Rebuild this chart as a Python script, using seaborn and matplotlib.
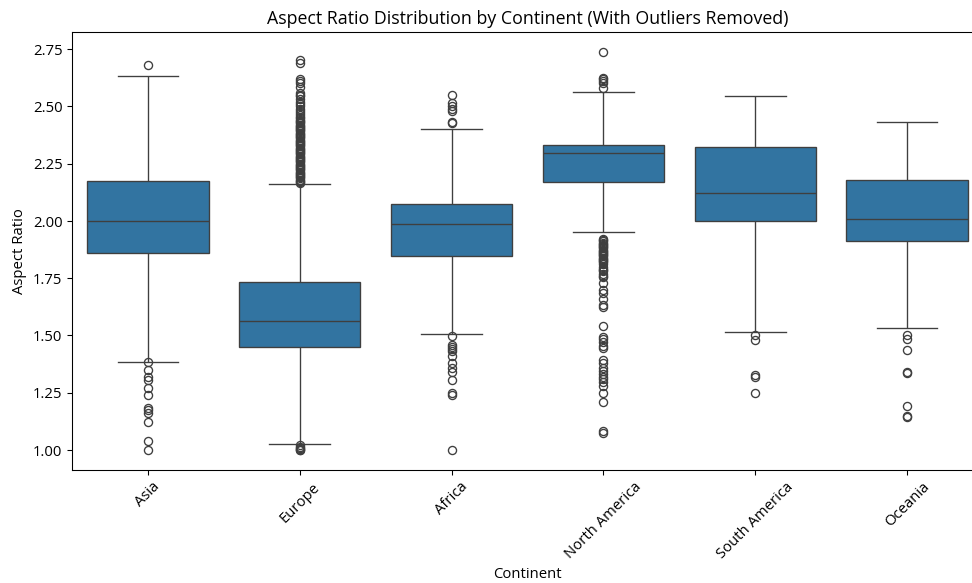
import matplotlib
matplotlib.use("Agg")
import matplotlib.pyplot as plt
import seaborn as sns
import pandas as pd

plt.rcParams["font.family"] = ["Open Sans", "DejaVu Sans"]
plt.rcParams["font.size"] = 11

continents = ["Asia", "Europe", "Africa", "North America", "South America", "Oceania"]

q1 = [1.858, 1.450, 1.845, 2.168, 2.000, 1.914]
median = [2.000, 1.562, 1.986, 2.297, 2.120, 2.010]
q3 = [2.173, 1.735, 2.074, 2.330, 2.323, 2.177]
whisker_low = [1.386, 1.025, 1.507, 1.950, 1.517, 1.533]
whisker_high = [2.633, 2.160, 2.402, 2.563, 2.544, 2.431]

outliers_low = [
    [1.382, 1.350, 1.318, 1.306, 1.270, 1.240, 1.185, 1.175, 1.160, 1.124, 1.039, 1.000],
    [1.020, 1.015, 1.010, 1.005, 1.000, 1.000],
    [1.498, 1.460, 1.450, 1.440, 1.430, 1.410, 1.380, 1.360, 1.340, 1.306, 1.250, 1.240, 1.000],
    [1.920, 1.915, 1.910, 1.905, 1.900, 1.895, 1.890, 1.885, 1.880, 1.875, 1.870, 1.865,
     1.860, 1.855, 1.850, 1.845, 1.840, 1.835, 1.830, 1.825, 1.820, 1.810, 1.800, 1.790,
     1.785, 1.780, 1.770, 1.760, 1.755, 1.730, 1.700, 1.685, 1.660, 1.635, 1.625, 1.540,
     1.495, 1.485, 1.470, 1.455, 1.445, 1.395, 1.380, 1.360, 1.345, 1.330, 1.320, 1.310,
     1.295, 1.280, 1.250, 1.210, 1.085, 1.075],
    [1.503, 1.481, 1.328, 1.320, 1.248],
    [1.503, 1.484, 1.437, 1.342, 1.335, 1.192, 1.149, 1.143],
]

outliers_high = [
    [2.681],
    [2.700, 2.690, 2.620, 2.610, 2.600, 2.585, 2.560, 2.550, 2.545, 2.530, 2.520, 2.510,
     2.500, 2.490, 2.480, 2.470, 2.460, 2.455, 2.450, 2.440, 2.435, 2.430, 2.425, 2.420,
     2.415, 2.410, 2.405, 2.400, 2.395, 2.390, 2.385, 2.380, 2.375, 2.370, 2.365, 2.360,
     2.355, 2.350, 2.345, 2.340, 2.335, 2.330, 2.325, 2.320, 2.315, 2.310, 2.305, 2.300,
     2.295, 2.290, 2.285, 2.280, 2.275, 2.270, 2.265, 2.260, 2.255, 2.250, 2.245, 2.240,
     2.235, 2.230, 2.225, 2.220, 2.215, 2.210, 2.205, 2.200, 2.195, 2.190, 2.185, 2.180,
     2.175, 2.170, 2.165],
    [2.549, 2.515, 2.500, 2.490, 2.480, 2.430, 2.425],
    [2.738, 2.625, 2.620, 2.610, 2.600, 2.580],
    [],
    [],
]

# Build a table whose quartiles/whiskers reproduce the summary values above
BLOCK = 1000
rows_c, rows_v = [], []
for i, c in enumerate(continents):
    vals = (outliers_low[i] + [whisker_low[i]] + [q1[i]] * BLOCK + [median[i]] * BLOCK
            + [q3[i]] * BLOCK + [whisker_high[i]] + outliers_high[i])
    rows_c += [c] * len(vals)
    rows_v += vals
df = pd.DataFrame({"Continent": rows_c, "Aspect Ratio": rows_v})

fig = plt.figure(figsize=(10, 6), dpi=97.2)
ax = fig.add_axes([72 / 972, (583 - 470) / 583, (983 - 72) / 972, (470 - 32) / 583])
sns.boxplot(data=df, x="Continent", y="Aspect Ratio", order=continents, ax=ax)
ax.set_title("Aspect Ratio Distribution by Continent (With Outliers Removed)", fontsize=13.2)
ax.set_xlabel("Continent", fontsize=11)
ax.set_ylabel("Aspect Ratio", fontsize=11)
ax.tick_params(labelsize=11)
plt.setp(ax.get_xticklabels(), rotation=45)
ax.set_yticks([1.0, 1.25, 1.5, 1.75, 2.0, 2.25, 2.5, 2.75])
fig.savefig("out.png", dpi=97.2)
